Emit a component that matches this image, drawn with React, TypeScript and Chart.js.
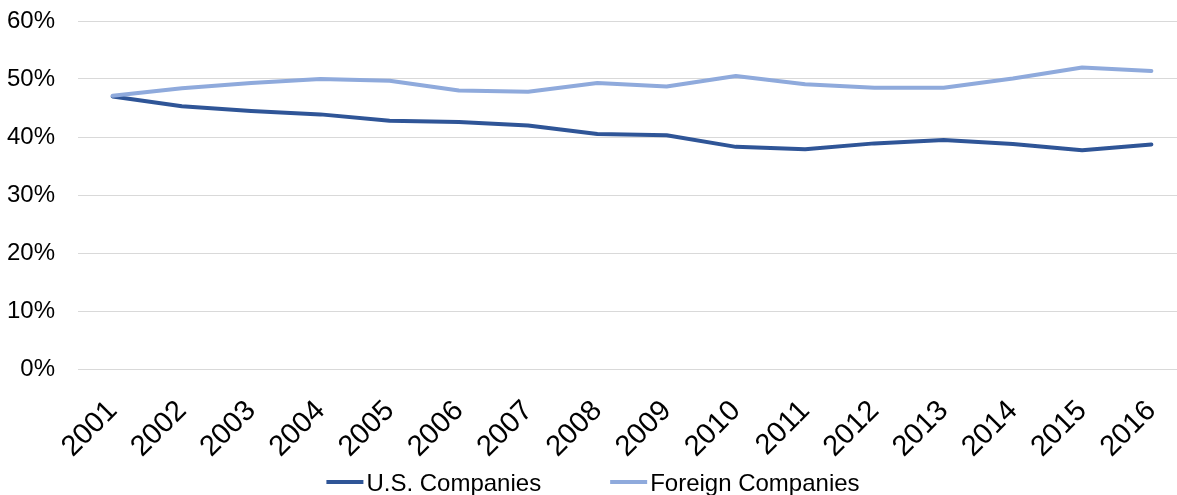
import React, { useEffect, useRef } from "react";
import { Chart, registerables } from "chart.js";

Chart.register(...registerables);

const years = ["2001","2002","2003","2004","2005","2006","2007","2008","2009","2010","2011","2012","2013","2014","2015","2016"];
const usCompanies = [47.0, 45.3, 44.5, 43.9, 42.8, 42.6, 42.0, 40.5, 40.3, 38.3, 37.9, 38.9, 39.5, 38.8, 37.7, 38.7];
const foreignCompanies = [47.1, 48.4, 49.3, 50.0, 49.7, 48.0, 47.8, 49.3, 48.7, 50.5, 49.1, 48.5, 48.5, 50.1, 52.0, 51.4];
const seriesNames = ["U.S. Companies", "Foreign Companies"];
const seriesColors = ["#2F5597", "#8FAADC"];

const FONT_FAMILY = '"Liberation Sans", Arial, sans-serif';

const bottomLegend = {
  id: "bottomLegend",
  afterDraw(chart: any) {
    const ctx = chart.ctx;
    ctx.save();
    ctx.font = `24px ${FONT_FAMILY}`;
    const lineW = 37, gap = 3, itemGap = 69;
    const items = chart.data.datasets.map((ds: any) => ({
      label: ds.label,
      color: ds.borderColor,
      w: ctx.measureText(ds.label).width,
    }));
    const total = items.reduce((s: number, it: any) => s + lineW + gap + it.w, 0) + itemGap * (items.length - 1);
    let x = chart.width / 2 - total / 2;
    const baseY = chart.height - 4;
    const lineY = baseY - 9;
    for (const it of items) {
      ctx.strokeStyle = it.color;
      ctx.lineWidth = 4;
      ctx.lineCap = "butt";
      ctx.beginPath();
      ctx.moveTo(x, lineY);
      ctx.lineTo(x + lineW, lineY);
      ctx.stroke();
      ctx.fillStyle = "#000";
      ctx.textBaseline = "alphabetic";
      ctx.textAlign = "left";
      ctx.fillText(it.label, x + lineW + gap, baseY);
      x += lineW + gap + it.w + itemGap;
    }
    ctx.restore();
  },
};

export default function App() {
  const ref = useRef<HTMLCanvasElement>(null);
  useEffect(() => {
    document.body.style.overflow = "hidden";
    const chart = new Chart(ref.current!, {
      type: "line",
      data: {
        labels: years,
        datasets: [
          {
            label: seriesNames[0],
            data: usCompanies,
            borderColor: seriesColors[0],
            backgroundColor: seriesColors[0],
            borderWidth: 4,
            pointRadius: 0,
            tension: 0,
            borderCapStyle: "round",
            borderJoinStyle: "round",
            order: 1,
          },
          {
            label: seriesNames[1],
            data: foreignCompanies,
            borderColor: seriesColors[1],
            backgroundColor: seriesColors[1],
            borderWidth: 4,
            pointRadius: 0,
            tension: 0,
            borderCapStyle: "round",
            borderJoinStyle: "round",
            order: 0,
          },
        ],
      },
      options: {
        responsive: false,
        animation: false,
        devicePixelRatio: 1,
        layout: { padding: { top: 21, right: 0, bottom: 30, left: 0 } },
        plugins: { legend: { display: false }, tooltip: { enabled: false } },
        scales: {
          x: {
            offset: true,
            grid: {
              display: true,
              drawOnChartArea: false,
              drawTicks: true,
              tickLength: 25,
              color: "transparent",
              tickColor: "transparent",
            },
            border: { display: false },
            ticks: {
              minRotation: 45,
              maxRotation: 45,
              autoSkip: false,
              padding: 0,
              color: "#000",
              font: { family: FONT_FAMILY, size: 29 },
            },
            afterFit: (s: any) => { s.height = 96; },
          },
          y: {
            min: 0,
            max: 60,
            grid: {
              color: "#D9D9D9",
              lineWidth: 1,
              drawTicks: true,
              tickLength: 23,
              tickColor: "transparent",
            },
            border: { display: false },
            ticks: {
              stepSize: 10,
              padding: 0,
              color: "#000",
              font: { family: FONT_FAMILY, size: 24 },
              callback: (v: any) => `${v}%`,
            },
            afterFit: (s: any) => { s.width = 78; },
          },
        },
      },
      plugins: [bottomLegend],
    });
    return () => chart.destroy();
  }, []);
  return (
    <div style={{ position: "fixed", left: 0, top: 0, width: 1177, height: 495, overflow: "hidden", background: "#fff" }}>
      <canvas ref={ref} width={1186} height={495} style={{ width: 1186, height: 495, display: "block" }} />
    </div>
  );
}
